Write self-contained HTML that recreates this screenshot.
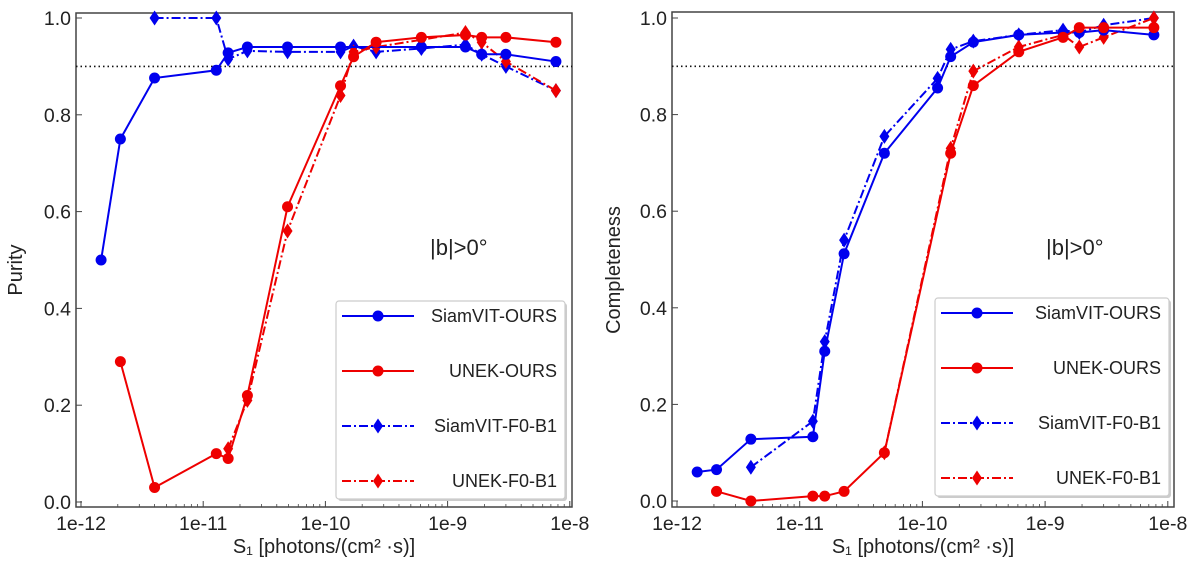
<!DOCTYPE html>
<html><head><meta charset="utf-8"><style>
html,body{margin:0;padding:0;background:#fff}
svg text{font-family:"Liberation Sans","DejaVu Sans",sans-serif;fill:#222}
</style></head><body>
<svg id="fig" width="1200" height="565" viewBox="0 0 1200 565" xmlns="http://www.w3.org/2000/svg"></svg>
<script>
const xVals=[1.46e-12,2.1e-12,4e-12,1.28e-11,1.6e-11,2.3e-11,4.9e-11,1.33e-10,1.7e-10,2.6e-10,6.1e-10,1.4e-9,1.9e-9,3e-9,7.7e-9];
// Purity (null = no point)
const pSiamOurs=[0.5,0.75,0.876,0.892,0.928,0.94,0.94,0.94,null,null,0.94,0.94,0.925,0.925,0.91];
const pSiamF0=[null,null,1.0,1.0,0.915,0.932,0.93,0.93,0.942,0.93,0.937,0.945,0.925,0.9,0.85];
const pUnekOurs=[null,0.29,0.03,0.10,0.09,0.22,0.61,0.86,0.92,0.95,0.96,0.965,0.96,0.96,0.95];
const pUnekF0=[null,null,null,null,0.11,0.21,0.56,0.84,0.93,0.94,0.955,0.97,0.95,0.91,0.85];
// Completeness
const cSiamOurs=[0.06,0.065,0.128,0.133,0.31,0.512,0.72,0.855,0.92,0.95,0.965,0.97,0.97,0.975,0.965];
const cSiamF0=[null,null,0.07,0.165,0.33,0.54,0.755,0.875,0.935,0.952,0.965,0.975,0.97,0.985,1.0];
const cUnekOurs=[null,0.02,0.0,0.01,0.01,0.02,0.1,null,0.72,0.86,0.93,0.96,0.98,0.98,0.98];
const cUnekF0=[null,null,null,null,null,null,0.1,null,0.73,0.89,0.94,0.965,0.94,0.96,1.0];
const yTicks=[0.0,0.2,0.4,0.6,0.8,1.0];
const xTicks=[-12,-11,-10,-9,-8];
const xTickLabels=["1e-12","1e-11","1e-10","1e-9","1e-8"];
const legendNames=["SiamVIT-OURS","UNEK-OURS","SiamVIT-F0-B1","UNEK-F0-B1"];

const NS="http://www.w3.org/2000/svg";
const svg=document.getElementById('fig');
function mk(tag,attrs,parent){const e=document.createElementNS(NS,tag);for(const k in attrs)e.setAttribute(k,attrs[k]);(parent||svg).appendChild(e);return e;}

function panel(cfg){
  const g=mk('g',{});
  
  
  const xs=v=>cfg.x0+(Math.log10(v)+12)*cfg.dec;
  const xl=l=>cfg.x0+(l+12)*cfg.dec;
  const ys=v=>cfg.y0-v*cfg.yh;
  const fr=mk('rect',{x:cfg.L,y:cfg.T,width:cfg.R-cfg.L,height:cfg.B-cfg.T,fill:'none',stroke:'#444','stroke-width':1.5},g);
  
  
  yTicks.forEach(t=>{
    const y=ys(t);
    mk('line',{x1:cfg.L,x2:cfg.L+6,y1:y,y2:y,stroke:'#444','stroke-width':1},g);
    const tx=mk('text',{x:cfg.L-5,y:y+7,'font-size':19.5,'text-anchor':'end'},g);
    tx.textContent=t.toFixed(1);
    
    
  });
  xTicks.forEach((t,i)=>{
    const x=xl(t);
    mk('line',{x1:x,x2:x,y1:cfg.B,y2:cfg.B-6,stroke:'#444','stroke-width':1},g);
    for(let m=2;m<10&&t<-8;m++){const xm=xl(t+Math.log10(m));mk('line',{x1:xm,x2:xm,y1:cfg.B,y2:cfg.B-3,stroke:'#444','stroke-width':0.8},g);}
    const tx=mk('text',{x:x,y:cfg.B+23,'font-size':19.5,'text-anchor':'middle'},g);
    tx.textContent=xTickLabels[i];
    
    
  });
  const th=mk('line',{x1:cfg.L,x2:cfg.R,y1:ys(0.9),y2:ys(0.9),stroke:'#111','stroke-width':1.6,'stroke-dasharray':'1.5,3'},g);
  
  
  const series=[
    {d:cfg.s[2],c:'#0000ee',dash:'9,3,2,3',mk:'d',n:'siamvit-f0-b1'},
    {d:cfg.s[3],c:'#ee0000',dash:'9,3,2,3',mk:'d',n:'unek-f0-b1'},
    {d:cfg.s[0],c:'#0000ee',dash:'',mk:'o',n:'siamvit-ours'},
    {d:cfg.s[1],c:'#ee0000',dash:'',mk:'o',n:'unek-ours'}
  ];
  series.forEach(s=>{
    const pts=[];
    s.d.forEach((v,i)=>{if(v!==null)pts.push([xs(xVals[i]),ys(v)]);});
    const pl=mk('polyline',{points:pts.map(p=>p.join(',')).join(' '),fill:'none',stroke:s.c,'stroke-width':2,'stroke-dasharray':s.dash},g);
    
    
    pts.forEach(p=>{
      let m;
      if(s.mk==='o')m=mk('circle',{cx:p[0],cy:p[1],r:5.5,fill:s.c},g);
      else m=mk('polygon',{points:`${p[0]},${p[1]-7.5} ${p[0]+5},${p[1]} ${p[0]},${p[1]+7.5} ${p[0]-5},${p[1]}`,fill:s.c},g);
      
      
    });
  });
  const an=mk('text',{x:cfg.annX,y:cfg.annY,'font-size':22},g);
  an.textContent='|b|>0°';
  
  
  const lg=mk('g',{},g);
  
  
  mk('rect',{x:cfg.lgX+2,y:cfg.lgY+2,width:cfg.lgW,height:198,fill:'#ccc',rx:3},lg);
  mk('rect',{x:cfg.lgX,y:cfg.lgY,width:cfg.lgW,height:198,fill:'#fff',stroke:'#ccc','stroke-width':1.2,rx:3},lg);
  const lstyle=[['#0000ee','','o'],['#ee0000','','o'],['#0000ee','9,3,2,3','d'],['#ee0000','9,3,2,3','d']];
  legendNames.forEach((n,i)=>{
    const y=cfg.lgY+15+i*55;
    const e=mk('g',{},lg);
    
    
    const [c,d,m]=lstyle[i];
    mk('line',{x1:cfg.lgX+6,x2:cfg.lgX+78,y1:y,y2:y,stroke:c,'stroke-width':2,'stroke-dasharray':d},e);
    if(m==='o')mk('circle',{cx:cfg.lgX+42,cy:y,r:5.5,fill:c},e);
    else mk('polygon',{points:`${cfg.lgX+42},${y-7.5} ${cfg.lgX+47},${y} ${cfg.lgX+42},${y+7.5} ${cfg.lgX+37},${y}`,fill:c},e);
    const t=mk('text',{x:cfg.lgX+cfg.lgW-8,y:y+6,'font-size':18,'text-anchor':'end'},e);
    t.textContent=n;
  });
  const xlab=mk('text',{x:(cfg.L+cfg.R)/2,y:553,'font-size':20,'text-anchor':'middle'},g);
  xlab.textContent='S₁ [photons/(cm² ·s)]';
  
  
  const ylab=mk('text',{x:0,y:0,'font-size':20,'text-anchor':'middle',transform:`translate(${cfg.yLabX},${cfg.yLabY}) rotate(-90)`},g);
  ylab.textContent=cfg.ylabel;
  
  
}

panel({name:'purity-panel',L:76,R:572,T:13,B:507,x0:81,dec:122.2,y0:502,yh:484,
  s:[pSiamOurs,pUnekOurs,pSiamF0,pUnekF0],annX:430,annY:255,lgX:336,lgY:301,lgW:229,
  ylabel:'Purity',yLabX:22,yLabY:270});
panel({name:'completeness-panel',L:672,R:1174,T:12,B:507,x0:677,dec:122.7,y0:501,yh:483,
  s:[cSiamOurs,cUnekOurs,cSiamF0,cUnekF0],annX:1046,annY:255,lgX:935,lgY:298,lgW:234,
  ylabel:'Completeness',yLabX:620,yLabY:270});
</script>
</body></html>
